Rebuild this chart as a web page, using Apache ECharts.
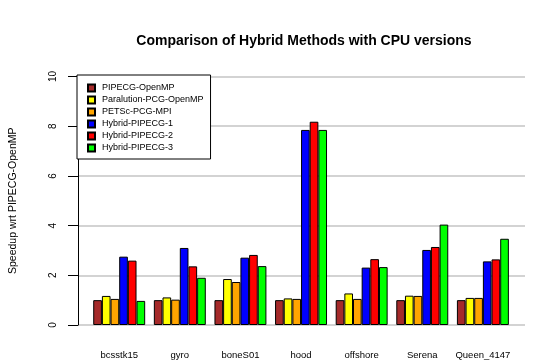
<!DOCTYPE html>
<html>
<head>
<meta charset="utf-8">
<script src="https://cdn.jsdelivr.net/npm/echarts@6/dist/echarts.min.js"></script>
<style>
  html, body { margin: 0; padding: 0; background: #fff; }
  #main { width: 545px; height: 363px; }
</style>
</head>
<body>
<div id="main"></div>
<script>
// matrices along x axis
var categories = ['bcsstk15', 'gyro', 'boneS01', 'hood', 'offshore', 'Serena', 'Queen_4147'];
var yTicks = [0, 2, 4, 6, 8, 10];

// speedup values
var pipecgOpenMP = [1.0, 1.0, 1.0, 1.0, 1.0, 1.0, 1.0];
var paralution = [1.17, 1.11, 1.85, 1.07, 1.27, 1.18, 1.09];
var petsc = [1.05, 1.02, 1.73, 1.05, 1.05, 1.17, 1.09];
var hybrid1 = [2.75, 3.10, 2.71, 7.85, 2.31, 3.02, 2.56];
var hybrid2 = [2.59, 2.36, 2.82, 8.18, 2.65, 3.14, 2.64];
var hybrid3 = [0.97, 1.90, 2.37, 7.85, 2.33, 4.04, 3.47];

var seriesNames = ['PIPECG-OpenMP', 'Paralution-PCG-OpenMP', 'PETSc-PCG-MPI',
  'Hybrid-PIPECG-1', 'Hybrid-PIPECG-2', 'Hybrid-PIPECG-3'];
var seriesData = [pipecgOpenMP, paralution, petsc, hybrid1, hybrid2, hybrid3];
var colors = ['#a52a2a', '#ffff00', '#ffa500', '#0000ff', '#ff0000', '#00ff00'];

var font = '"Liberation Sans", Arial, Helvetica, sans-serif';

var chart = echarts.init(document.getElementById('main'), null, { renderer: 'canvas' });

var option = {
  animation: false,
  backgroundColor: '#fff',
  color: colors,
  title: {
    text: 'Comparison of Hybrid Methods with CPU versions',
    left: 299,
    top: 29,
    textAlign: 'center',
    textStyle: { fontFamily: font, fontSize: 14, fontWeight: 'bold', color: '#000' }
  },
  legend: {
    data: seriesNames,
    orient: 'vertical',
    left: 77,
    top: 75,
    padding: [7, 7, 5, 10],
    icon: 'rect',
    itemWidth: 7,
    itemHeight: 7,
    itemGap: 0,
    borderColor: '#000',
    borderWidth: 1,
    backgroundColor: '#fff',
    z: 10,
    textStyle: { fontFamily: font, fontSize: 9, color: '#000', lineHeight: 12, padding: [0, 0, 0, 2] }
  },
  grid: [
    // frame for y axis and grid lines
    { left: 77, right: 20, top: 76.5, bottom: 38 },
    // frame for the bars
    { left: 88.9, right: 31.8, top: 76.5, bottom: 38 }
  ],
  xAxis: [
    { gridIndex: 0, type: 'value', show: false, min: 0, max: 1 },
    {
      gridIndex: 1,
      type: 'category',
      data: categories,
      axisLine: { show: false },
      axisTick: { show: false },
      splitLine: { show: false },
      axisLabel: { fontFamily: font, fontSize: 9.5, color: '#000', margin: 25, interval: 0 }
    }
  ],
  yAxis: [
    {
      gridIndex: 0,
      type: 'value',
      min: yTicks[0],
      max: yTicks[yTicks.length - 1],
      interval: 2,
      name: 'Speedup wrt PIPECG-OpenMP',
      nameLocation: 'middle',
      nameRotate: 90,
      nameGap: 59,
      nameTextStyle: { fontFamily: font, fontSize: 10.5, color: '#000' },
      axisLine: { show: true, lineStyle: { color: '#000', width: 1 } },
      axisTick: { show: true, length: 10, lineStyle: { color: '#000', width: 1 } },
      axisLabel: { rotate: 90, margin: 20, fontFamily: font, fontSize: 10, color: '#000' },
      splitLine: { show: true, lineStyle: { color: '#d3d3d3', width: 2 } }
    },
    {
      gridIndex: 1,
      type: 'value',
      min: yTicks[0],
      max: yTicks[yTicks.length - 1],
      interval: 2,
      show: false,
      splitLine: { show: false }
    }
  ],
  series: seriesNames.map(function (name, i) {
    return {
      name: name,
      type: 'bar',
      xAxisIndex: 1,
      yAxisIndex: 1,
      data: seriesData[i],
      barGap: '0%',
      barCategoryGap: '14.3%',
      itemStyle: { color: colors[i], borderColor: '#000', borderWidth: 1 }
    };
  })
};

chart.setOption(option);
</script>
</body>
</html>
